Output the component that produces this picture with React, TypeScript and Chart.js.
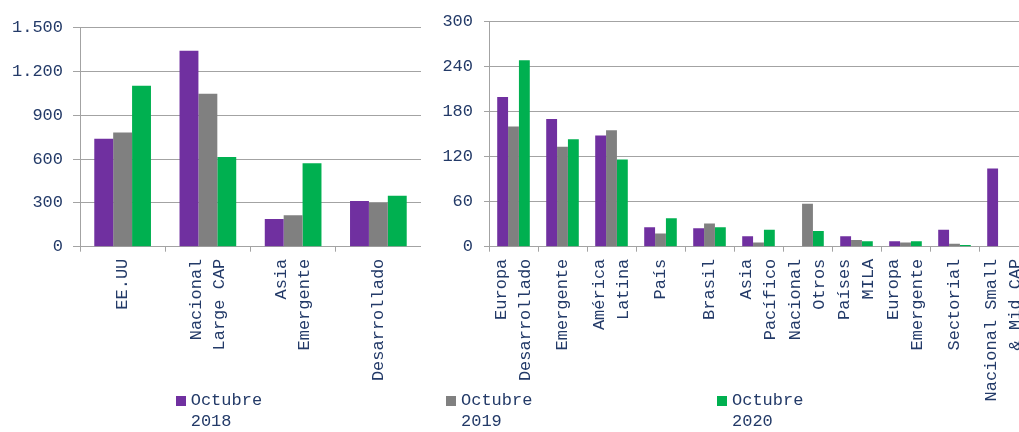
import React, { useEffect, useRef } from 'react';
import { Chart, registerables } from 'chart.js';

Chart.register(...registerables);

// ---- data ----
const SERIES_LABELS = ['Octubre 2018', 'Octubre 2019', 'Octubre 2020'];
const SERIES_COLORS = ['#7030a0', '#808080', '#00b050'];

const LEFT_CATEGORIES = [['EE.UU'], ['Nacional', 'Large CAP'], ['Asia', 'Emergente'], ['Desarrollado']];
const LEFT_2018 = [740, 1342, 190, 313];
const LEFT_2019 = [783, 1048, 215, 301];
const LEFT_2020 = [1103, 614, 571, 349];
const LEFT_TICKS = [0, 300, 600, 900, 1200, 1500];

const RIGHT_CATEGORIES = [
  ['Europa', 'Desarrollado'],
  ['Emergente'],
  ['América', 'Latina'],
  ['País'],
  ['Brasil'],
  ['Asia', 'Pacífico'],
  ['Nacional', 'Otros'],
  ['Países', 'MILA'],
  ['Europa', 'Emergente'],
  ['Sectorial'],
  ['Nacional Small', '& Mid CAP'],
];
const RIGHT_2018 = [199, 170, 148, 26, 24.5, 14, null, 14, 7.4, 22.7, 104];
const RIGHT_2019 = [160, 133, 155, 17.5, 31, 5.7, 57, 9, 5.7, 4, null];
const RIGHT_2020 = [248, 143, 116, 38, 26, 22.7, 21, 7.4, 7.4, 2.2, null];
const RIGHT_TICKS = [0, 60, 120, 180, 240, 300];

// ---- style ----
const TEXT = '#233a68';
const GRID = '#a3a3a3';
const FONT = '"Liberation Mono", "DejaVu Sans Mono", monospace';

const fmt = (v: number) => String(v).replace(/\B(?=(\d{3})+(?!\d))/g, '.');

const centerMultiline = {
  id: 'centerMultiline',
  beforeDraw(chart: any) {
    const scale = chart.scales.x;
    const items: any = scale.getLabelItems();
    if (items._centered) return;
    items.forEach((it: any) => {
      const n = Array.isArray(it.label) ? it.label.length : 1;
      if (n > 1) {
        it.options.translation[0] -= ((n - 1) * it.font.lineHeight) / 2;
      }
    });
    items._centered = true;
  },
};

type PanelProps = {
  categories: string[][];
  series: (number | null)[][];
  ticks: number[];
  width: number;
  height: number;
  yWidth: number;
  top: number;
  plotBottom: number;
  yTickLen: number;
  yPad: number;
};

function Panel(p: PanelProps) {
  const ref = useRef<HTMLCanvasElement>(null);
  useEffect(() => {
    const chart = new Chart(ref.current!, {
      type: 'bar',
      data: {
        labels: p.categories,
        datasets: p.series.map((d, i) => ({
          label: SERIES_LABELS[i],
          data: d,
          backgroundColor: SERIES_COLORS[i],
          borderWidth: 0,
          categoryPercentage: 0.665,
          barPercentage: 1,
        })),
      },
      options: {
        animation: false,
        responsive: false,
        layout: { padding: { top: p.top, left: 0, right: 0, bottom: 0 } },
        plugins: { legend: { display: false }, tooltip: { enabled: false } },
        scales: {
          x: {
            grid: { display: true, drawOnChartArea: false, drawTicks: true, tickLength: 5, color: GRID, offset: true },
            border: { display: true, color: GRID },
            ticks: {
              autoSkip: false,
              minRotation: 90,
              maxRotation: 90,
              padding: 7,
              color: TEXT,
              font: { family: FONT, size: 17, lineHeight: 1.36 },
            },
            afterFit: (s: any) => {
              s.height = p.height - p.plotBottom;
              s.paddingLeft = 0;
              s.paddingRight = 0;
            },
          },
          y: {
            min: p.ticks[0],
            max: p.ticks[p.ticks.length - 1],
            grid: { color: GRID, tickLength: p.yTickLen, drawTicks: true },
            border: { display: true, color: GRID },
            ticks: {
              stepSize: p.ticks[1] - p.ticks[0],
              padding: p.yPad,
              color: TEXT,
              font: { family: FONT, size: 17 },
              callback: (v: any) => fmt(Number(v)),
            },
            afterFit: (s: any) => {
              s.width = p.yWidth;
            },
          },
        },
      },
      plugins: [centerMultiline],
    });
    return () => chart.destroy();
  }, []);
  return <canvas ref={ref} width={p.width} height={p.height} style={{ display: 'block' }} />;
}

const LEGEND_X = [190.7, 461, 732];

export default function App() {
  return (
    <div
      style={{
        position: 'absolute',
        left: 0,
        top: 0,
        width: 1019,
        height: 432,
        overflow: 'hidden',
        background: '#fff',
      }}
    >
      <div style={{ position: 'absolute', left: 0, top: 0 }}>
        <Panel
          categories={LEFT_CATEGORIES}
          series={[LEFT_2018, LEFT_2019, LEFT_2020]}
          ticks={LEFT_TICKS}
          width={421}
          height={432}
          yWidth={80}
          top={27.7}
          plotBottom={246.7}
          yTickLen={7}
          yPad={10}
        />
      </div>
      <div style={{ position: 'absolute', left: 421, top: 0 }}>
        <Panel
          categories={RIGHT_CATEGORIES}
          series={[RIGHT_2018, RIGHT_2019, RIGHT_2020]}
          ticks={RIGHT_TICKS}
          width={607}
          height={432}
          yWidth={68}
          top={17.3}
          plotBottom={246.7}
          yTickLen={5}
          yPad={11}
        />
      </div>
      {SERIES_LABELS.map((lab, i) => (
        <div
          key={lab}
          style={{
            position: 'absolute',
            left: LEGEND_X[i],
            top: 390,
            font: `17px ${FONT}`,
            lineHeight: '21px',
            color: TEXT,
            whiteSpace: 'nowrap',
          }}
        >
          <span
            style={{
              position: 'absolute',
              left: -15,
              top: 5.7,
              width: 10,
              height: 10,
              background: SERIES_COLORS[i],
            }}
          />
          {lab.split(' ').map((w) => (
            <div key={w}>{w}</div>
          ))}
        </div>
      ))}
    </div>
  );
}
